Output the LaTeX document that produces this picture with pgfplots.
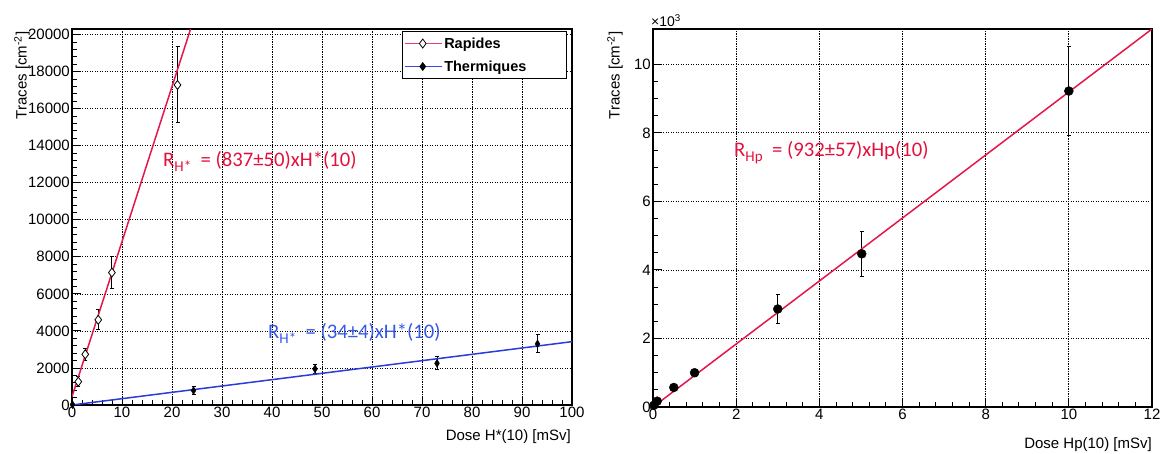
\documentclass[border=0pt]{standalone}
\usepackage{pgfplots}
\pgfplotsset{compat=1.18}
\usepackage{fontspec}
\setmainfont{Liberation Sans}
\newfontfamily\carlito{Carlito}
\definecolor{fitred}{HTML}{E5164A}
\definecolor{legred}{HTML}{E2407A}
\definecolor{txtred}{HTML}{E2103C}
\definecolor{fitblue}{HTML}{2B3BDB}
\definecolor{legblue}{HTML}{3848E0}
\definecolor{txtblue}{HTML}{3558E8}
\newcommand{\sub}[1]{\raisebox{-5bp}{\fontsize{15bp}{16bp}\selectfont #1}}
\pgfplotsset{
  rootstyle/.style={
    scale only axis,
    axis line style={line width=1.2bp},
    tick align=inside,
    tick pos=left,
    major tick length=9bp,
    minor tick length=5bp,
    every tick/.style={black, line width=0.9bp},
    grid=major,
    major grid style={black, line width=0.7bp, dash pattern=on 1.2bp off 1.3bp},
    tick label style={font=\fontsize{15bp}{17bp}\selectfont},
    yticklabel style={inner sep=2bp},
    xticklabel style={inner sep=2bp},
    /pgf/number format/assume math mode=true,
    /pgf/number format/1000 sep={},
    scaled ticks=false,
  },
  ebars/.style={error bars/.cd, y dir=both, y explicit,
    error bar style={black, line width=1bp},
    error mark options={rotate=90, mark size=2bp, black, line width=1bp}},
}
\begin{document}
\begin{tikzpicture}
\path[use as bounding box] (0,0) rectangle (1163bp,-454bp);
\begin{axis}[rootstyle, at={(72bp,-405bp)}, anchor=south west,
  width=500bp, height=376bp,
  xmin=0, xmax=100, ymin=0, ymax=20300,
  xtick={0,10,...,100}, ytick={0,2000,...,20000},
  minor x tick num=4, minor y tick num=4,
  legend style={at={(1,1)}, anchor=north east, xshift=-5bp, yshift=-2bp,
    inner xsep=2bp, inner ysep=4bp, line width=1.1bp,
    font=\bfseries\fontsize{14.5bp}{16bp}\selectfont,
    row sep=7bp},
  legend cell align=left]
\addlegendimage{legend image code/.code={\draw[draw=legred,line width=1.1bp] plot coordinates {(0bp,0bp) (37bp,0bp)};\draw[draw=black,fill=white,line width=0.8bp] plot[mark=diamond*,mark size=4.5bp] coordinates {(18bp,0bp)};}}
\addlegendentry{Rapides}
\addlegendimage{legend image code/.code={\draw[draw=legblue,line width=1.1bp] plot coordinates {(0bp,0bp) (37bp,0bp)};\draw[draw=black,fill=black,line width=0.6bp] plot[mark=diamond*,mark size=4bp] coordinates {(18bp,0bp)};}}
\addlegendentry{Thermiques\hspace*{36bp}}
\addplot[forget plot, only marks, mark=diamond*, mark size=4.5bp,
  mark options={draw=black, fill=white, line width=0.8bp}, ebars]
  table[x=x, y=y, y error=e] {
x y e
1.26 1260 270
2.65 2740 320
5.25 4600 550
7.98 7150 850
21.1 17280 2050
};
\addplot[forget plot, only marks, mark=diamond*, mark size=4bp,
  mark options={draw=black, fill=black, xscale=0.8}, ebars]
  table[x=x, y=y, y error=e] {
x y e
0.1 20 30
24.3 780 200
48.6 1950 230
73.0 2250 350
93.1 3300 480
};
\addplot[forget plot, fitred, line width=1.5bp] coordinates {(0,450) (24.5,20956)};
\addplot[forget plot, fitblue, line width=1.5bp] coordinates {(0,0) (100,3420)};
\end{axis}
\begin{axis}[rootstyle, at={(653bp,-407bp)}, anchor=south west,
  width=499bp, height=378bp,
  xmin=0, xmax=12, ymin=0, ymax=11.03,
  xtick={0,2,...,12}, ytick={0,2,...,10},
  minor x tick num=4, minor y tick num=3]
\addplot[only marks, mark=*, mark size=4.5bp, black, ebars]
  table[x=x, y=y, y error=e] {
x y e
0.02 0.05 0.02
0.1 0.17 0.04
0.5 0.57 0.06
1.0 1.0 0.1
3.0 2.86 0.42
5.02 4.47 0.65
10.0 9.22 1.3
};
\addplot[fitred, line width=1.5bp] coordinates {(0,0) (12,11.03)};
\end{axis}
% labels
\node[rotate=90, anchor=east, font=\fontsize{15bp}{17bp}\selectfont] at (22bp,-28bp) {Traces [cm\textsuperscript{-2}]};
\node[rotate=90, anchor=east, font=\fontsize{15bp}{17bp}\selectfont] at (615bp,-28bp) {Traces [cm\textsuperscript{-2}]};
\node[anchor=east, inner sep=0pt, font=\fontsize{15bp}{17bp}\selectfont] at (571bp,-437bp) {Dose H*(10) [mSv]};
\node[anchor=east, inner sep=0pt, font=\fontsize{15bp}{17bp}\selectfont] at (1152bp,-445bp) {Dose Hp(10) [mSv]};
\node[anchor=west, inner sep=0pt, font=\fontsize{14bp}{16bp}\selectfont] at (651bp,-21bp) {×10\textsuperscript{3}};
% annotations
\node[anchor=base west, inner sep=0pt, text=txtred, font=\carlito\fontsize{20.7bp}{22bp}\selectfont] at (163bp,-166bp) {R\sub{H*}\ \ = (837±50)xH*(10)};
\node[anchor=base west, inner sep=0pt, text=txtblue, font=\carlito\fontsize{20.7bp}{22bp}\selectfont] at (268bp,-338bp) {R\sub{H*}\ \ = (34±4)xH*(10)};
\node[anchor=base west, inner sep=0pt, text=txtred, font=\carlito\fontsize{20.7bp}{22bp}\selectfont] at (734bp,-156bp) {R\sub{Hp}\ \ = (932±57)xHp(10)};
\end{tikzpicture}
\end{document}
